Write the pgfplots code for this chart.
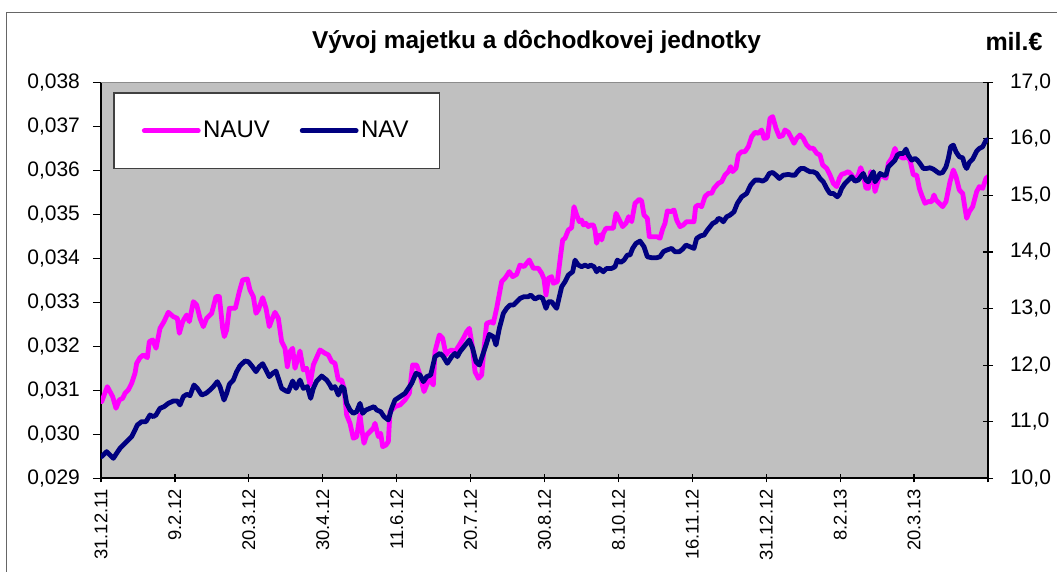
\documentclass[border=0pt]{standalone}
\usepackage{pgfplots}
\pgfplotsset{compat=1.18}
\usepackage{pgfplotstable}
\usepackage{fontspec}
\setmainfont{Liberation Sans}
\definecolor{nauv}{RGB}{255,0,255}
\definecolor{nav}{RGB}{0,0,128}
\definecolor{bggray}{RGB}{192,192,192}

\pgfplotstableread{
x y
2 0.030742
19 0.031083
35 0.030856
45 0.030591
55 0.030780
65 0.030818
72 0.030932
82 0.031008
92 0.031159
102 0.031386
107 0.031614
117 0.031742
127 0.031803
139 0.031742
145 0.032106
155 0.032144
165 0.031955
177 0.032409
189 0.032561
202 0.032773
217 0.032674
229 0.032636
235 0.032295
245 0.032561
257 0.032712
265 0.032561
277 0.033015
287 0.032939
297 0.032636
307 0.032447
317 0.032636
332 0.032750
345 0.033129
355 0.033129
365 0.032409
370 0.032220
377 0.032371
385 0.032864
395 0.032864
403 0.032864
415 0.033242
425 0.033508
439 0.033530
447 0.033280
457 0.033129
465 0.032750
472 0.032826
485 0.033106
495 0.032864
505 0.032447
512 0.032598
522 0.032773
532 0.032636
542 0.032106
552 0.031955
559 0.031538
567 0.031879
575 0.031955
582 0.031500
597 0.031894
607 0.031462
617 0.031500
622 0.031311
627 0.031121
637 0.031576
657 0.031917
672 0.031841
682 0.031803
692 0.031652
702 0.031614
712 0.031235
722 0.031235
729 0.031045
737 0.030439
747 0.030250
757 0.029909
767 0.029947
777 0.030439
782 0.030136
789 0.029795
797 0.029985
807 0.030061
817 0.030136
822 0.030250
832 0.029947
839 0.030023
845 0.029720
855 0.029758
862 0.029833
867 0.030515
882 0.030629
897 0.030667
912 0.030780
925 0.030932
935 0.031576
947 0.031576
957 0.031348
969 0.030970
979 0.031159
987 0.031235
997 0.031121
1002 0.031879
1015 0.032258
1025 0.032182
1035 0.031803
1042 0.031879
1052 0.031917
1062 0.031879
1072 0.031992
1087 0.032182
1097 0.032333
1105 0.032409
1115 0.031955
1122 0.031424
1132 0.031273
1142 0.031348
1149 0.031955
1157 0.032523
1172 0.032561
1177 0.032523
1187 0.032864
1202 0.033470
1212 0.033545
1225 0.033697
1235 0.033583
1247 0.033636
1257 0.033848
1269 0.033811
1285 0.033962
1297 0.033773
1312 0.033773
1322 0.033659
1329 0.033530
1335 0.033167
1342 0.033545
1352 0.033583
1357 0.033432
1369 0.033470
1379 0.034076
1385 0.034417
1392 0.034455
1402 0.034644
1412 0.034697
1419 0.035174
1427 0.034985
1435 0.034833
1442 0.034871
1447 0.034758
1455 0.034795
1462 0.034720
1469 0.034758
1477 0.034758
1482 0.034644
1487 0.034341
1492 0.034492
1497 0.034530
1502 0.034417
1507 0.034568
1515 0.034682
1527 0.034682
1537 0.034682
1545 0.035023
1555 0.034871
1565 0.034720
1575 0.034795
1583 0.034947
1592 0.034833
1602 0.035250
1615 0.035341
1622 0.035303
1629 0.034985
1639 0.034909
1645 0.034492
1657 0.034492
1667 0.034492
1677 0.034455
1685 0.034667
1692 0.034795
1699 0.035076
1709 0.035061
1719 0.035098
1727 0.034871
1737 0.034720
1747 0.034758
1757 0.034833
1769 0.034833
1779 0.034833
1784 0.035174
1792 0.035212
1802 0.035174
1812 0.035402
1822 0.035477
1832 0.035477
1839 0.035591
1852 0.035705
1862 0.035742
1872 0.035894
1882 0.035970
1889 0.036083
1895 0.035970
1905 0.036045
1912 0.036348
1922 0.036424
1932 0.036424
1942 0.036538
1952 0.036765
1962 0.036864
1972 0.036841
1982 0.036917
1989 0.036727
1999 0.036742
2007 0.037182
2015 0.037220
2025 0.036955
2035 0.036765
2045 0.036788
2052 0.036917
2062 0.036864
2069 0.036765
2079 0.036614
2087 0.036727
2097 0.036803
2107 0.036727
2117 0.036576
2127 0.036500
2137 0.036500
2147 0.036386
2157 0.036348
2165 0.036121
2177 0.036045
2187 0.035894
2197 0.035705
2207 0.035629
2215 0.035818
2222 0.035909
2232 0.035932
2242 0.035970
2252 0.035894
2262 0.035758
2272 0.035894
2279 0.036061
2287 0.035894
2295 0.035591
2302 0.035591
2309 0.035970
2317 0.035818
2322 0.035515
2329 0.035705
2337 0.035894
2347 0.035856
2355 0.035818
2362 0.036159
2372 0.036273
2382 0.036500
2389 0.036348
2397 0.036311
2407 0.036273
2417 0.036311
2427 0.036235
2437 0.035894
2447 0.035894
2455 0.035591
2462 0.035439
2472 0.035250
2482 0.035288
2492 0.035288
2499 0.035439
2505 0.035326
2515 0.035250
2525 0.035174
2535 0.035288
2547 0.035742
2557 0.036008
2565 0.035856
2575 0.035553
2585 0.035477
2592 0.035136
2597 0.034909
2605 0.035061
2615 0.035174
2627 0.035515
2635 0.035629
2645 0.035591
2655 0.035818
2661 0.035856
}\nauvdata

\pgfplotstableread{
x y
2 10.383
17 10.471
27 10.412
37 10.353
47 10.442
57 10.530
67 10.589
77 10.648
92 10.736
102 10.854
109 10.942
122 11.001
135 11.001
147 11.119
157 11.090
165 11.119
177 11.237
189 11.266
202 11.325
217 11.366
229 11.366
237 11.296
247 11.443
257 11.484
267 11.461
279 11.649
289 11.590
302 11.472
315 11.502
327 11.561
337 11.620
349 11.708
357 11.620
369 11.384
377 11.502
385 11.661
397 11.737
407 11.885
417 11.991
432 12.073
442 12.061
452 11.991
465 11.885
475 11.973
485 12.026
495 11.914
505 11.796
515 11.855
525 11.896
532 11.767
542 11.590
555 11.543
562 11.531
575 11.720
585 11.590
597 11.737
607 11.590
619 11.620
629 11.413
637 11.590
647 11.720
662 11.808
677 11.737
687 11.649
692 11.590
702 11.620
712 11.472
722 11.620
729 11.590
737 11.325
747 11.207
757 11.148
767 11.178
777 11.325
785 11.148
795 11.207
807 11.237
819 11.266
827 11.207
839 11.178
849 11.090
862 11.031
872 11.237
882 11.384
897 11.443
912 11.502
922 11.590
932 11.678
945 11.855
957 11.826
967 11.708
977 11.796
989 11.826
1002 12.150
1017 12.208
1027 12.150
1039 12.032
1052 12.150
1062 12.208
1069 12.150
1077 12.238
1089 12.326
1105 12.444
1115 12.297
1125 12.061
1135 12.002
1145 12.179
1155 12.356
1165 12.544
1177 12.503
1185 12.356
1195 12.650
1207 12.915
1217 13.004
1227 13.062
1237 13.062
1247 13.121
1257 13.180
1269 13.210
1282 13.210
1289 13.239
1302 13.168
1315 13.210
1325 13.180
1335 13.004
1342 13.121
1352 13.121
1359 13.062
1367 13.004
1375 13.210
1382 13.386
1392 13.475
1402 13.592
1415 13.651
1422 13.857
1432 13.769
1442 13.740
1452 13.769
1462 13.740
1469 13.769
1479 13.740
1487 13.651
1495 13.710
1507 13.651
1517 13.710
1532 13.710
1542 13.740
1549 13.857
1559 13.816
1569 13.857
1579 13.946
1587 13.946
1595 14.064
1605 14.152
1617 14.193
1629 14.093
1639 13.916
1652 13.899
1667 13.899
1677 13.916
1687 14.005
1697 14.034
1712 14.064
1722 14.005
1735 14.005
1745 14.052
1755 14.122
1767 14.093
1779 14.064
1787 14.240
1799 14.287
1809 14.299
1819 14.387
1827 14.446
1835 14.505
1845 14.535
1852 14.594
1859 14.582
1867 14.535
1877 14.623
1887 14.652
1899 14.711
1909 14.859
1922 14.976
1937 15.035
1949 15.183
1962 15.271
1975 15.271
1985 15.253
1995 15.289
2005 15.389
2015 15.406
2025 15.359
2035 15.300
2047 15.359
2062 15.371
2072 15.359
2082 15.359
2089 15.418
2099 15.477
2109 15.477
2117 15.448
2127 15.418
2137 15.418
2147 15.389
2157 15.300
2167 15.241
2177 15.124
2187 15.035
2197 15.035
2209 14.976
2215 15.018
2222 15.124
2232 15.212
2242 15.271
2252 15.330
2262 15.253
2272 15.271
2279 15.330
2287 15.389
2295 15.271
2302 15.241
2309 15.330
2317 15.418
2322 15.241
2329 15.300
2337 15.389
2347 15.359
2355 15.359
2362 15.506
2372 15.565
2382 15.624
2389 15.713
2397 15.742
2407 15.742
2415 15.819
2422 15.713
2432 15.624
2442 15.654
2449 15.624
2457 15.565
2467 15.477
2477 15.477
2487 15.489
2497 15.465
2505 15.430
2515 15.389
2525 15.406
2535 15.506
2542 15.654
2549 15.860
2557 15.889
2565 15.771
2575 15.683
2585 15.665
2592 15.524
2597 15.477
2605 15.583
2615 15.642
2627 15.783
2635 15.830
2645 15.860
2655 15.978
2661 15.978
}\navdata

\begin{document}
\begin{tikzpicture}
\useasboundingbox (-50.5pt,-46.85pt) rectangle (478pt,239.15pt);
\begin{axis}[
  name=main,
  at={(0pt,0pt)}, anchor=south west,
  scale only axis, width=443.5pt, height=198pt,
  xmin=0, xmax=2661, ymin=0.029, ymax=0.038,
  axis x line*=bottom, axis y line*=left,
  axis line style={black, line width=0.8pt},
  axis background/.style={fill=bggray},
  xtick={0,221.75,443.5,665.25,887,1108.75,1330.5,1552.25,1774,1995.75,2217.5,2439.25,2661},
  xticklabels={31.12.11,9.2.12,20.3.12,30.4.12,11.6.12,20.7.12,30.8.12,8.10.12,16.11.12,31.12.12,8.2.13,20.3.13,{}},
  xticklabel style={rotate=90, anchor=east, font=\fontsize{9.2}{11}\selectfont},
  ytick={0.029,0.030,0.031,0.032,0.033,0.034,0.035,0.036,0.037,0.038},
  scaled y ticks=false,
  /pgf/number format/assume math mode=true,
  yticklabel style={/pgf/number format/.cd, fixed, fixed zerofill, precision=3, use comma, /tikz/.cd, font=\fontsize{10.5}{12}\selectfont, xshift=-3pt},
  xtick align=center, ytick align=outside,
  major tick length=4pt,
  tick style={black, line width=0.6pt},
  legend columns=2,
  legend style={draw=black!75, line width=0.6pt, fill=white, at={(0.01387,0.9747)}, anchor=north west,
    inner xsep=14pt, inner ysep=12.8pt, font=\fontsize{12}{14}\selectfont,
    nodes={inner sep=1.25pt},
    /tikz/every even column/.append style={column sep=13.7pt}},
  legend image code/.code={\draw[#1] (0pt,0pt) -- (27pt,0pt);},
]
\draw[black!45, line width=0.8pt] (rel axis cs:0,1) -- (rel axis cs:1,1);
\addplot[nauv, line width=2.4pt, line join=round, line cap=round] table {\nauvdata};
\addlegendentry{NAUV}
\addlegendimage{nav, line width=2.4pt, line cap=round}
\addlegendentry{NAV}
\end{axis}
\begin{axis}[
  at={(0pt,0pt)}, anchor=south west,
  scale only axis, width=443.5pt, height=198pt,
  xmin=0, xmax=2661, ymin=10, ymax=17,
  axis x line=none, axis y line*=right,
  axis line style={black, line width=0.8pt},
  ytick={10,11,12,13,14,15,16,17},
  /pgf/number format/assume math mode=true,
  yticklabel style={/pgf/number format/.cd, fixed, fixed zerofill, precision=1, use comma, /tikz/.cd, font=\fontsize{10.5}{12}\selectfont, xshift=5pt},
  ytick align=center,
  major tick length=5pt,
  tick style={black, line width=0.6pt},
]
\addplot[nav, line width=2.4pt, line join=round, line cap=round] table {\navdata};
\end{axis}
\draw[black!60, line width=0.6pt] (-47.15pt,-80pt) -- (-47.15pt,232.8pt) -- (520pt,232.8pt);
\node[font=\bfseries\fontsize{12.2}{14}\selectfont] at (217.75pt,218.15pt) {Vývoj majetku a dôchodkovej jednotky};
\node[font=\bfseries\fontsize{12.5}{14}\selectfont] at (456.5pt,218.15pt) {mil.€};
\end{tikzpicture}
\end{document}
